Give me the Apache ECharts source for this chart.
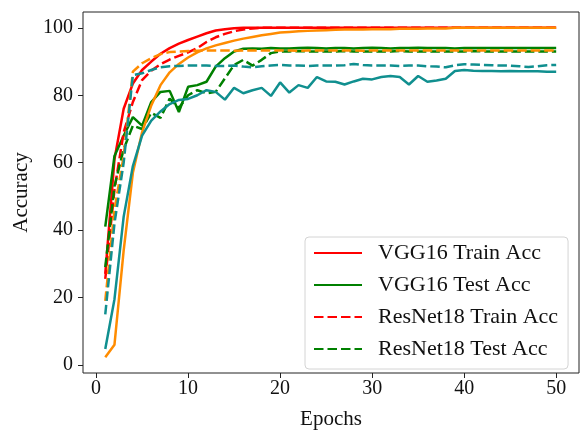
<!DOCTYPE html>
<html>
<head>
<meta charset="utf-8">
<style>
  html, body { margin: 0; padding: 0; background: #fff; }
  #chart { width: 581px; height: 435px; }
</style>
<script src="https://cdn.jsdelivr.net/npm/echarts@6/dist/echarts.min.js"></script>
</head>
<body>
<div id="chart"></div>
<script>
// Training / test accuracy per epoch
const epochs = Array.from({ length: 50 }, (_, i) => i + 1);

const vgg16Train = [27, 61, 76, 83.5, 87.5, 90, 92.3, 94, 95.3, 96.4,
  97.4, 98.4, 99.2, 99.6, 99.9, 100, 100, 100, 100, 100,
  100, 100, 100, 100, 100, 100, 100, 100, 100, 100,
  100, 100, 100, 100, 100, 100, 100, 100, 100, 100,
  100, 100, 100, 100, 100, 100, 100, 100, 100, 100];

const vgg16Test = [41, 62, 68, 73.5, 71, 78, 81, 81.3, 75, 82.5,
  83, 84, 88.5, 91, 93, 93.8, 93.9, 93.8, 94, 93.9,
  93.9, 94, 94.1, 94, 93.9, 94, 94, 93.9, 94, 94.1,
  94, 93.9, 94, 94, 94.1, 94, 94, 94, 93.9, 94,
  94, 94, 94, 94, 94, 94, 94, 94, 94, 94];

const resnet18Train = [25.5, 52, 69, 78, 84.5, 87.3, 89.2, 90.6, 91.7, 92.7,
  94, 95.8, 97.2, 98.2, 99, 99.5, 99.8, 100, 100, 100,
  100, 100, 100, 100, 100, 100, 100, 100, 100, 100,
  100, 100, 100, 100, 100, 100, 100, 100, 100, 100,
  100, 100, 100, 100, 100, 100, 100, 100, 100, 100];

const resnet18Test = [29, 53, 64, 71, 70, 74.8, 73.3, 79, 76.2, 80,
  81.5, 80.6, 81, 85, 89, 90.5, 88.8, 90.5, 92.5, 93,
  93, 93.1, 93, 93, 93, 93, 93.1, 93, 93, 93,
  93, 93, 93.1, 93, 93, 93, 93, 93, 93, 93,
  93.1, 93, 93, 93, 93, 93, 93, 93, 93, 93];

const modelCTrain = [2.3, 6, 34, 57, 69, 77, 83, 86.8, 89.3, 91.2,
  92.7, 93.9, 94.8, 95.5, 96.2, 96.8, 97.3, 97.8, 98.2, 98.6,
  98.8, 99, 99.1, 99.2, 99.3, 99.4, 99.5, 99.5, 99.5, 99.6,
  99.6, 99.6, 99.7, 99.7, 99.7, 99.8, 99.8, 99.8, 100, 100,
  100, 100, 100, 100, 100, 100, 100, 100, 100, 100];

const modelCTest = [4.7, 19.5, 44, 59, 68, 72.5, 75.2, 77.4, 78.6, 78.9,
  80, 81.5, 81, 78.7, 82.2, 80.6, 81.5, 82.2, 79.8, 83.8,
  80.8, 83, 82.2, 85.4, 84.1, 84, 83.2, 84.1, 84.9, 84.7,
  85.4, 85.7, 85.4, 83.2, 85.7, 84, 84.4, 84.9, 87.2, 87.5,
  87.3, 87.2, 87.2, 87.1, 87.2, 87.1, 87.1, 87.1, 87, 87];

const modelDTrain = [19, 46, 62, 87, 89.5, 91, 92.2, 92.8, 93, 93.1,
  93.2, 93.3, 93.3, 93.3, 93.2, 93.3, 93.3, 93.3, 93.3, 93.3,
  93.3, 93.2, 93.3, 93.3, 93.3, 93.3, 93.3, 93.3, 93.2, 93.3,
  93.3, 93.3, 93.3, 93.3, 93.3, 93.3, 93.3, 93.3, 93.3, 93.3,
  93.3, 93.3, 93.3, 93.3, 93.3, 93.3, 93.3, 93.3, 93.3, 93.3];

const modelDTest = [15, 42, 60, 86, 86.5, 87.5, 88.3, 88.6, 88.7, 88.8,
  88.8, 88.8, 88.7, 88.7, 88.8, 88.5, 88.3, 88.6, 88.8, 89,
  88.8, 88.8, 88.7, 88.8, 88.8, 88.8, 88.9, 89.3, 89, 88.8,
  88.8, 88.8, 88.7, 88.8, 88.8, 88.6, 88.5, 88.3, 88.9, 89.2,
  89.1, 89, 88.9, 88.8, 88.8, 88.6, 88.4, 88.6, 88.9, 89];

const xTicks = [0, 10, 20, 30, 40, 50];
const yTicks = [0, 20, 40, 60, 80, 100];
const legendNames = ['VGG16 Train Acc', 'VGG16 Test Acc', 'ResNet18 Train Acc', 'ResNet18 Test Acc'];

const FONT = 'Liberation Serif';
const dash = [9.5, 4];

function line(name, values, color, dashed) {
  return {
    name: name,
    type: 'line',
    data: epochs.map((e, i) => [e, values[i]]),
    symbol: 'none',
    showSymbol: false,
    lineStyle: { color: color, width: 2.5, type: dashed ? dash : 'solid' },
    itemStyle: { color: color },
    emphasis: { disabled: true },
    silent: true
  };
}

const chart = echarts.init(document.getElementById('chart'), null, { renderer: 'canvas' });
chart.setOption({
  animation: false,
  backgroundColor: '#fff',
  textStyle: { fontFamily: FONT },
  grid: {
    left: 83, top: 12, right: 2, bottom: 54,
    show: true, borderColor: '#222', borderWidth: 1, backgroundColor: 'transparent'
  },
  xAxis: {
    type: 'value', min: -1.42, max: 52.48,
    name: 'Epochs', nameLocation: 'middle', nameGap: 36,
    nameTextStyle: { fontFamily: FONT, fontSize: 21, color: '#111', lineHeight: 21 },
    axisLine: { show: false, onZero: false },
    axisTick: { show: true, inside: false, length: 5, lineStyle: { color: '#222', width: 1 }, customValues: xTicks },
    axisLabel: { fontFamily: FONT, fontSize: 20, color: '#111', margin: 6, lineHeight: 20, customValues: xTicks },
    splitLine: { show: false }
  },
  yAxis: {
    type: 'value', min: -2.4, max: 104.7,
    name: 'Accuracy', nameLocation: 'middle', nameGap: 43,
    nameTextStyle: { fontFamily: FONT, fontSize: 21, color: '#111', lineHeight: 21 },
    axisLine: { show: false, onZero: false },
    axisTick: { show: true, inside: false, length: 5, lineStyle: { color: '#222', width: 1 }, customValues: yTicks },
    axisLabel: { fontFamily: FONT, fontSize: 20, color: '#111', margin: 10, customValues: yTicks },
    splitLine: { show: false }
  },
  legend: {
    data: legendNames,
    orient: 'vertical',
    left: 305, top: 237,
    padding: [5, 10, 9, 8],
    itemGap: 10,
    itemWidth: 48,
    itemHeight: 14,
    backgroundColor: 'rgba(255,255,255,0.85)',
    borderColor: '#d4d4d4',
    borderWidth: 1,
    borderRadius: 4,
    selectedMode: false,
    itemStyle: { opacity: 0 },
    textStyle: { fontFamily: FONT, fontSize: 22, color: '#111', lineHeight: 22, padding: [0, 0, 0, 11] }
  },
  series: [
    line('VGG16 Train Acc', vgg16Train, '#ff0000', false),
    line('VGG16 Test Acc', vgg16Test, '#008000', false),
    line('ResNet18 Train Acc', resnet18Train, '#ff0000', true),
    line('ResNet18 Test Acc', resnet18Test, '#008000', true),
    line('Model C Train Acc', modelCTrain, '#ff8c00', false),
    line('Model C Test Acc', modelCTest, '#108f8f', false),
    line('Model D Train Acc', modelDTrain, '#ff8c00', true),
    line('Model D Test Acc', modelDTest, '#108f8f', true)
  ]
});
</script>
</body>
</html>
